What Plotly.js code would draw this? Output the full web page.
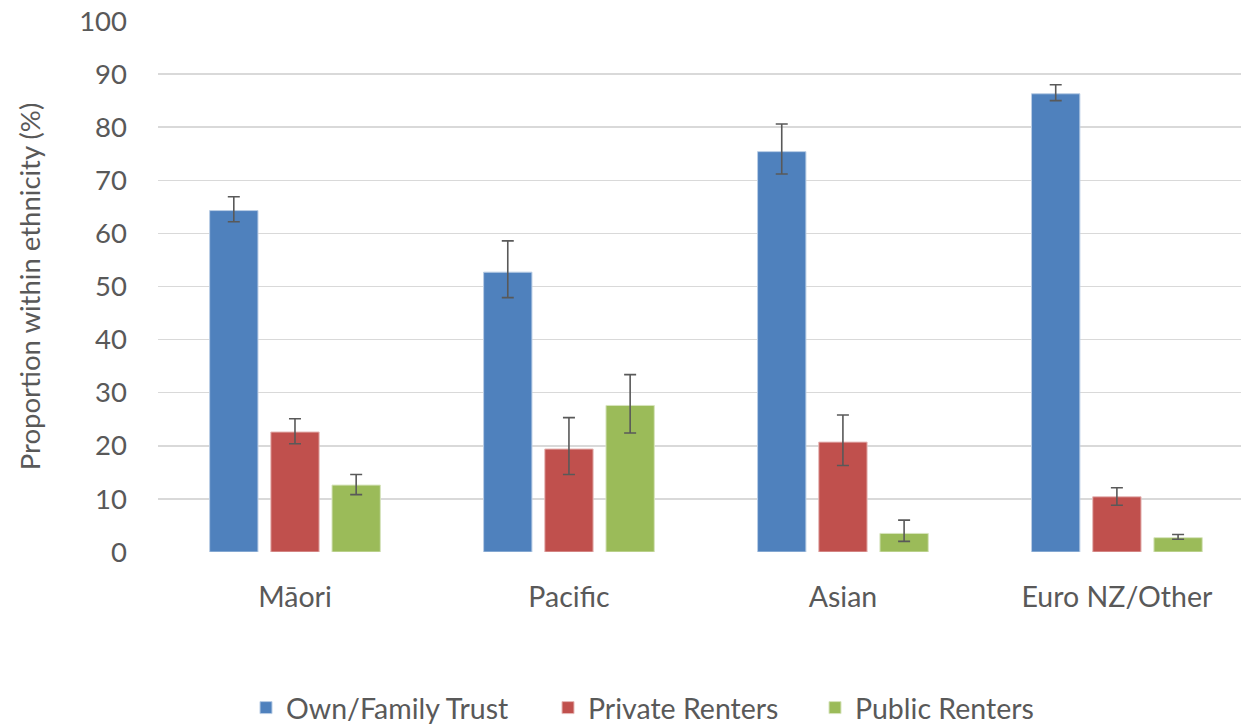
<!DOCTYPE html>
<html>
<head>
<meta charset="utf-8">
<script src="https://cdn.plot.ly/plotly-3.0.1.min.js"></script>
<style>html,body{margin:0;padding:0;background:#fff;}#chart{width:1241px;height:724px;}</style>
</head>
<body>
<div id="chart"></div>
<script>
const categories = ["Māori", "Pacific", "Asian", "Euro NZ/Other"];
const seriesNames = ["Own/Family Trust", "Private Renters", "Public Renters"];
const ownValues = [64.3, 52.7, 75.4, 86.3];
const ownUpper = [66.9, 58.6, 80.6, 88.0];
const ownLower = [62.2, 47.9, 71.2, 85.0];
const privateValues = [22.6, 19.4, 20.7, 10.4];
const privateUpper = [25.1, 25.3, 25.8, 12.1];
const privateLower = [20.4, 14.6, 16.3, 8.8];
const publicValues = [12.6, 27.6, 3.5, 2.7];
const publicUpper = [14.6, 33.4, 6.0, 3.3];
const publicLower = [10.8, 22.4, 2.0, 2.4];
const yTicks = [0, 10, 20, 30, 40, 50, 60, 70, 80, 90, 100];

const colors = ["#4f81bd", "#c0504d", "#9bbb59"];
const edgeColors = ["#b9cde5", "#e6b9b8", "#d7e4bd"];
const legendIds = ["legend", "legend2", "legend3"];
const legendLeft = [262, 564, 831];
const FONT = "Lato, 'Open Sans', sans-serif";
const GREY = "#595959";

function mk(i, vals, up, lo) {
  return {
    type: "bar", name: seriesNames[i], x: categories, y: vals,
    legend: legendIds[i],
    marker: {color: colors[i], line: {color: edgeColors[i], width: 1}},
    error_y: {
      type: "data", symmetric: false,
      array: vals.map((v, k) => up[k] - v),
      arrayminus: vals.map((v, k) => v - lo[k]),
      color: GREY, thickness: 1.6, width: 6
    },
    hoverinfo: "x+y+name"
  };
}

const data = [
  mk(0, ownValues, ownUpper, ownLower),
  mk(1, privateValues, privateUpper, privateLower),
  mk(2, publicValues, publicUpper, publicLower)
];

function legendAt(px) {
  return {
    orientation: "h", xref: "container", yref: "container",
    x: (px - 16) / 1241, xanchor: "left", y: 0.022, yanchor: "middle",
    font: {family: FONT, size: 28.5, color: GREY},
    itemclick: false, bgcolor: "rgba(0,0,0,0)"
  };
}

const layout = {
  width: 1241, height: 724,
  margin: {l: 158, r: 0, t: 21, b: 171.5},
  paper_bgcolor: "#fff", plot_bgcolor: "#fff",
  font: {family: FONT, color: GREY, size: 27},
  barmode: "group", bargap: 0.33, bargroupgap: 0.21,
  xaxis: {
    type: "category", range: [-0.5, 3.453],
    showgrid: false, zeroline: false, showline: false,
    ticks: "", ticklabelstandoff: 25,
    tickfont: {family: FONT, size: 28.5, color: GREY}
  },
  yaxis: {
    range: [0, 100], tickvals: yTicks, ticktext: yTicks.map(String),
    showgrid: true, gridcolor: "#d9d9d9", gridwidth: 1.5,
    zeroline: false, showline: false, ticks: "",
    ticklabelstandoff: 30,
    tickfont: {family: FONT, size: 27.5, color: GREY},
    title: {text: "Proportion within ethnicity (%)", font: {family: FONT, size: 27.5, color: GREY}, standoff: 30}
  },
  legend: legendAt(legendLeft[0]),
  legend2: legendAt(legendLeft[1]),
  legend3: legendAt(legendLeft[2]),
  showlegend: true
};

Plotly.newPlot("chart", data, layout, {displayModeBar: false, staticPlot: true});
</script>
</body>
</html>
